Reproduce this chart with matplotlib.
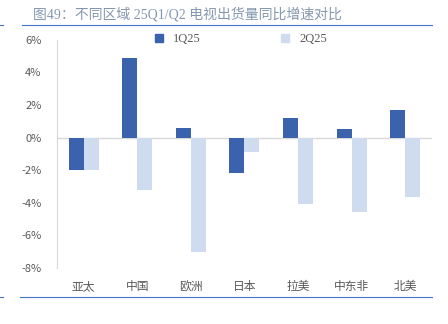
import matplotlib
matplotlib.use("Agg")
import matplotlib.pyplot as plt
import numpy as np
from matplotlib.lines import Line2D
from matplotlib.ticker import FuncFormatter

plt.rcParams['font.family'] = ['Noto Sans CJK SC', 'DejaVu Sans']

regions = ['亚太', '中国', '欧洲', '日本', '拉美', '中东非', '北美']
q1 = [-2.0, 4.9, 0.6, -2.15, 1.2, 0.5, 1.7]
q2 = [-2.0, -3.2, -7.0, -0.9, -4.1, -4.55, -3.65]
series_names = ['1Q25', '2Q25']
title = '图49：不同区域 25Q1/Q2 电视出货量同比增速对比'

c1 = '#3A62AD'
c2 = '#CFDCEF'
grey = '#595959'

fig = plt.figure(figsize=(4.48, 3.24), dpi=100)
ax = fig.add_axes([0.127, 0.173, 0.837, 0.704])

x = np.arange(len(regions))
w = 0.28
ax.bar(x - w / 2, q1, w, color=c1, label=series_names[0])
ax.bar(x + w / 2, q2, w, color=c2, label=series_names[1])

ax.set_xlim(-0.5, len(regions) - 0.5)
ax.set_ylim(-8, 6)
ax.set_yticks(range(-8, 7, 2))
ax.yaxis.set_major_formatter(FuncFormatter(lambda v, p: '%d%%' % v))
ax.set_xticks(x)
ax.set_xticklabels(regions)
ax.axhline(0, color='#D9D9D9', lw=1, zorder=0)

for s in ['top', 'right', 'bottom']:
    ax.spines[s].set_visible(False)
ax.spines['left'].set_color('#D9D9D9')
ax.tick_params(axis='both', length=0, colors=grey, labelsize=8)
ax.tick_params(axis='x', pad=9, labelsize=8.5)
ax.tick_params(axis='y', pad=11)

handles = [Line2D([], [], marker='s', ls='', color=c1, markersize=6),
           Line2D([], [], marker='s', ls='', color=c2, markersize=6)]
fig.legend(handles, series_names, loc='center', bbox_to_anchor=(0.528, 0.88),
           ncol=2, frameon=False, handletextpad=0.1,
           columnspacing=5.8, labelcolor=grey,
           prop={'family': ['Liberation Serif', 'DejaVu Sans'], 'size': 9})

fig.text(0.074, 0.957, title, fontsize=10, color='#8497B0', va='center',
         family=['Liberation Serif', 'Noto Sans CJK SC'])
fig.add_artist(Line2D([0.049, 0.964], [0.924, 0.924], color='#4472C4', lw=0.8))
fig.add_artist(Line2D([0.0, 0.007], [0.924, 0.924], color='#4472C4', lw=0.8))
fig.add_artist(Line2D([0.045, 0.964], [0.083, 0.083], color='#4472C4', lw=0.8))
fig.add_artist(Line2D([0.0, 0.007], [0.083, 0.083], color='#4472C4', lw=0.8))

fig.savefig('out.png', dpi=100)
